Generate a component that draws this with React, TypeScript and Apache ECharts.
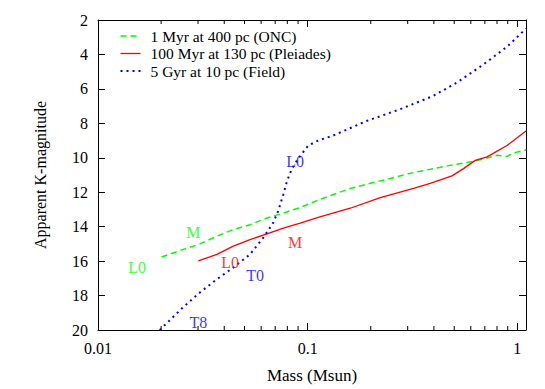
import React, { useEffect, useRef } from "react";
import * as echarts from "echarts";

// ---- data ----
const oncMass = [0.0201, 0.0255, 0.0307, 0.0369, 0.0442, 0.0531, 0.0639, 0.0766, 0.0921, 0.1126, 0.1596, 0.2294, 0.32, 0.4617, 0.6186, 0.8, 0.893, 0.96, 1.1];
const oncMag = [15.76, 15.32, 15.0, 14.55, 14.17, 13.89, 13.5, 13.21, 12.89, 12.45, 11.78, 11.3, 10.86, 10.47, 10.21, 9.86, 9.92, 9.72, 9.55];

const pleMass = [0.0301, 0.0369, 0.0442, 0.0531, 0.0639, 0.0766, 0.0921, 0.1122, 0.1596, 0.222, 0.32, 0.3843, 0.4878, 0.554, 0.63, 0.717, 0.893, 1.1];
const pleMag = [15.99, 15.61, 15.13, 14.75, 14.42, 14.08, 13.79, 13.46, 12.93, 12.31, 11.78, 11.49, 11.05, 10.63, 10.15, 9.95, 9.29, 8.45];

const fieldMass = [0.0197, 0.02545, 0.0307, 0.0369, 0.0441, 0.0531, 0.0613, 0.0684, 0.0723, 0.0764, 0.0796, 0.0841, 0.0901, 0.1006, 0.1122, 0.1323, 0.1923, 0.2764, 0.397, 0.517, 0.688, 0.896, 1.1];
const fieldMag = [20.0, 18.68, 17.81, 17.05, 16.38, 15.61, 14.65, 13.79, 13.1, 12.16, 11.37, 10.63, 10.05, 9.29, 9.0, 8.71, 7.85, 7.18, 6.41, 5.62, 4.59, 3.54, 2.5];

const seriesNames = ["1 Myr at 400 pc (ONC)", "100 Myr at 130 pc (Pleiades)", "5 Gyr at 10 pc (Field)"];

const oncLabelText = ["M", "L0"];
const oncLabelMass = [0.0285, 0.01536];
const oncLabelMag = [14.36, 16.38];

const pleLabelText = ["L0", "M"];
const pleLabelMass = [0.0427, 0.0871];
const pleLabelMag = [16.09, 14.94];

const fieldLabelText = ["L0", "T0", "T8"];
const fieldLabelMass = [0.0871, 0.0561, 0.0301];
const fieldLabelMag = [10.22, 16.85, 19.54];

const minorTicksX = [0.02, 0.03, 0.04, 0.05, 0.06, 0.07, 0.08, 0.09, 0.2, 0.3, 0.4, 0.5, 0.6, 0.7, 0.8, 0.9];

const X_MIN = 0.01;
const X_MAX = 1.1;
const Y_MIN = 2;
const Y_MAX = 20;
const Y_STEP = 2;

const GREEN = "#00ff00";
const RED = "#ff0000";
const BLUE = "#0000ff";
const FONT = "Liberation Serif";

const lineStyles = [
  { color: GREEN, width: 1.5, type: [6, 4] as any },
  { color: RED, width: 1.3, type: "solid" as any },
  { color: BLUE, width: 2, type: [2, 4] as any },
];

function pairs(xs: number[], ys: number[]) {
  return xs.map((x, i) => [x, ys[i]]);
}

function labelSeries(texts: string[], xs: number[], ys: number[], color: string) {
  return {
    type: "scatter",
    silent: true,
    symbolSize: 0,
    data: texts.map((t, i) => ({ name: t, value: [xs[i], ys[i]] })),
    label: {
      show: true,
      position: "inside",
      formatter: "{b}",
      color,
      fontFamily: FONT,
      fontSize: 16,
    },
    z: 5,
  };
}

function legendChildren() {
  const children: any[] = [];
  seriesNames.forEach((name, i) => {
    const y = i * 17.5;
    const ls = lineStyles[i];
    children.push({
      type: "line",
      shape: { x1: 0, y1: y, x2: 20, y2: y },
      style: {
        stroke: ls.color,
        lineWidth: ls.width,
        lineDash: Array.isArray(ls.type) ? ls.type : null,
      },
    });
    children.push({
      type: "text",
      x: 30,
      y,
      style: {
        text: name,
        fill: "#000",
        fontFamily: FONT,
        fontSize: 15.5,
        lineHeight: 16,
        verticalAlign: "middle",
        textAlign: "left",
      },
    });
  });
  return children;
}

export default function App() {
  const ref = useRef<HTMLDivElement>(null);
  useEffect(() => {
    if (!ref.current) return;
    const chart = echarts.init(ref.current, undefined, { renderer: "svg" });
    const axisLine = { show: true, lineStyle: { color: "#000", width: 1 } };
    const tick = { show: true, inside: true, length: 7, lineStyle: { color: "#000" } };
    chart.setOption({
      animation: false,
      backgroundColor: "#fff",
      textStyle: { fontFamily: FONT },
      grid: { left: 98, right: 19, top: 20, bottom: 56 },
      graphic: [
        {
          type: "group",
          left: 118,
          top: 28,
          children: legendChildren(),
        },
      ],
      xAxis: [
        {
          type: "log",
          logBase: 10,
          min: X_MIN,
          max: X_MAX,
          position: "bottom",
          axisLine,
          axisTick: tick,
          splitLine: { show: false },
          axisLabel: {
            showMaxLabel: false,
            margin: 10,
            fontFamily: FONT,
            fontSize: 16,
            color: "#000",
            formatter: (v: number) => String(Number(v.toPrecision(3))),
          },
          name: "Mass (Msun)",
          nameLocation: "middle",
          nameGap: 37,
          nameTextStyle: { fontFamily: FONT, fontSize: 17, color: "#000" },
        },
        {
          type: "log",
          logBase: 10,
          min: X_MIN,
          max: X_MAX,
          position: "top",
          axisLine,
          axisTick: tick,
          splitLine: { show: false },
          axisLabel: { show: false },
        },
      ],
      yAxis: [
        {
          type: "value",
          inverse: true,
          min: Y_MIN,
          max: Y_MAX,
          interval: Y_STEP,
          position: "left",
          axisLine,
          axisTick: tick,
          splitLine: { show: false },
          axisLabel: { margin: 10, fontFamily: FONT, fontSize: 16, color: "#000" },
          name: "Apparent K-magnitude",
          nameLocation: "middle",
          nameGap: 50,
          nameRotate: 90,
          nameTextStyle: { fontFamily: FONT, fontSize: 16, color: "#000" },
        },
        {
          type: "value",
          inverse: true,
          min: Y_MIN,
          max: Y_MAX,
          interval: Y_STEP,
          position: "right",
          axisLine,
          axisTick: tick,
          splitLine: { show: false },
          axisLabel: { show: false },
        },
      ],
      series: [
        {
          name: seriesNames[0],
          type: "line",
          symbol: "none",
          data: pairs(oncMass, oncMag),
          lineStyle: lineStyles[0],
        },
        {
          name: seriesNames[1],
          type: "line",
          symbol: "none",
          data: pairs(pleMass, pleMag),
          lineStyle: lineStyles[1],
        },
        {
          name: seriesNames[2],
          type: "line",
          symbol: "none",
          data: pairs(fieldMass, fieldMag),
          lineStyle: lineStyles[2],
        },
        labelSeries(oncLabelText, oncLabelMass, oncLabelMag, GREEN),
        labelSeries(pleLabelText, pleLabelMass, pleLabelMag, RED),
        labelSeries(fieldLabelText, fieldLabelMass, fieldLabelMag, BLUE),
        {
          type: "custom",
          silent: true,
          data: minorTicksX.map((v) => [v, Y_MAX]),
          renderItem: (params: any, api: any) => {
            const v = api.value(0);
            const pb = api.coord([v, Y_MAX]);
            const pt = api.coord([v, Y_MIN]);
            return {
              type: "group",
              children: [
                { type: "line", shape: { x1: pb[0], y1: pb[1], x2: pb[0], y2: pb[1] - 4 }, style: { stroke: "#000", lineWidth: 1 } },
                { type: "line", shape: { x1: pt[0], y1: pt[1], x2: pt[0], y2: pt[1] + 4 }, style: { stroke: "#000", lineWidth: 1 } },
              ],
            };
          },
        },
      ],
    });
    return () => chart.dispose();
  }, []);
  return (
    <div
      ref={ref}
      style={{ position: "fixed", left: 0, top: 0, width: 545, height: 389 }}
    />
  );
}
